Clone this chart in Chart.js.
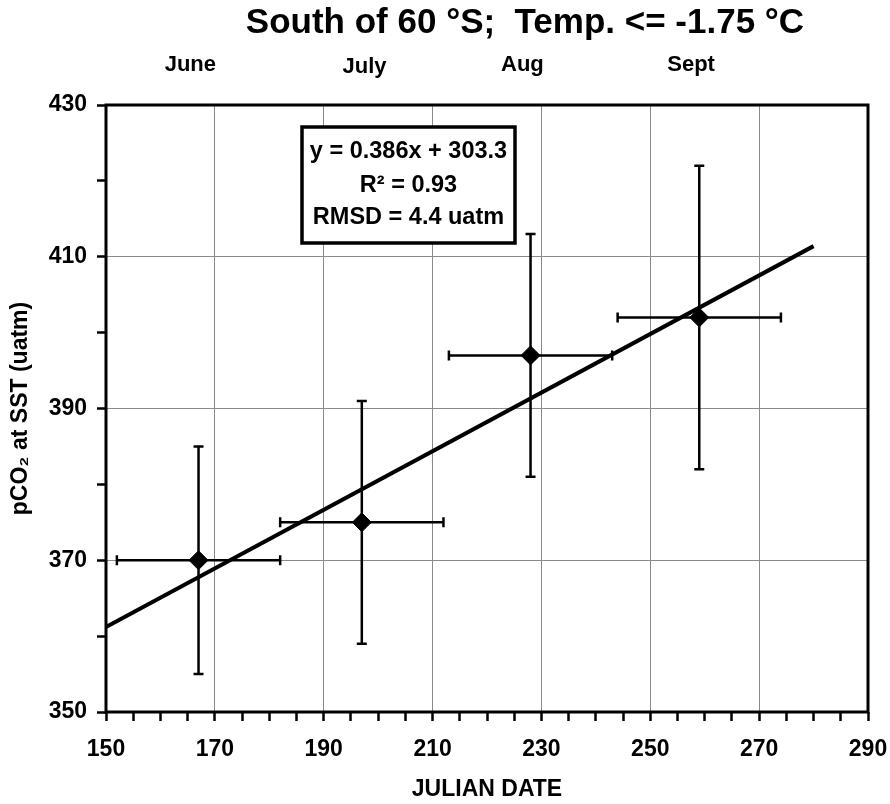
<!DOCTYPE html>
<html><head><meta charset="utf-8">
<script src="https://cdn.jsdelivr.net/npm/chart.js@4.4.0/dist/chart.umd.min.js"></script>
<style>html,body{margin:0;padding:0;background:#fff;}</style>
</head><body>
<canvas id="c" width="890" height="804" style="width:890px;height:804px;display:block"></canvas>
<script>
// ---- data ----
const julianDate = [167, 197, 228, 259];
const pco2 = [370, 375, 397, 402];
const dateErr = [15, 15, 15, 15];
const pco2Err = [15, 16, 16, 20];
const fitX = [150, 280];
const fitY = [361.2, 411.4];
const monthNames = ['June', 'July', 'Aug', 'Sept'];
const monthDates = [165.5, 197.5, 226.5, 257.5];
const xTicksMajor = [150, 170, 190, 210, 230, 250, 270, 290];
const yTicksMajor = [350, 370, 390, 410, 430];
const titleText = 'South of 60 °S;  Temp. <= -1.75 °C';
const fitText = ['y = 0.386x + 303.3', 'R² = 0.93', 'RMSD = 4.4 uatm'];
const xTitle = 'JULIAN DATE';
const yTitle = 'pCO₂ at SST (uatm)';

const FONT = "'Liberation Sans', Arial, sans-serif";
const GRID = '#8a8a8a';

const errorBars = {
  id: 'errorBars',
  beforeDatasetsDraw(chart) {
    const {ctx, scales: {x, y}} = chart;
    ctx.save();
    ctx.strokeStyle = '#000';
    ctx.lineWidth = 2.5;
    const cap = 5;
    for (let i = 0; i < julianDate.length; i++) {
      const px = x.getPixelForValue(julianDate[i]);
      const py = y.getPixelForValue(pco2[i]);
      const y1 = y.getPixelForValue(pco2[i] + pco2Err[i]);
      const y2 = y.getPixelForValue(pco2[i] - pco2Err[i]);
      const x1 = x.getPixelForValue(julianDate[i] - dateErr[i]);
      const x2 = x.getPixelForValue(julianDate[i] + dateErr[i]);
      ctx.beginPath();
      ctx.moveTo(px, y1); ctx.lineTo(px, y2);
      ctx.moveTo(px - cap, y1); ctx.lineTo(px + cap, y1);
      ctx.moveTo(px - cap, y2); ctx.lineTo(px + cap, y2);
      ctx.moveTo(x1, py); ctx.lineTo(x2, py);
      ctx.moveTo(x1, py - cap); ctx.lineTo(x1, py + cap);
      ctx.moveTo(x2, py - cap); ctx.lineTo(x2, py + cap);
      ctx.stroke();
    }
    ctx.restore();
  }
};

const decorations = {
  id: 'decorations',
  afterDraw(chart) {
    const {ctx, chartArea: a, scales: {x}} = chart;
    ctx.save();
    // frame
    ctx.strokeStyle = '#000';
    ctx.lineWidth = 3;
    ctx.strokeRect(a.left, a.top, a.right - a.left, a.bottom - a.top);
    // title
    ctx.fillStyle = '#000';
    ctx.textAlign = 'center';
    ctx.textBaseline = 'alphabetic';
    ctx.font = 'bold 35px ' + FONT;
    ctx.fillText(titleText, 525, 33);
    // month labels
    ctx.font = 'bold 22px ' + FONT;
    const dy = [0, 2.5, 0, 0];
    for (let i = 0; i < monthNames.length; i++) {
      ctx.fillText(monthNames[i], x.getPixelForValue(monthDates[i]), 70.5 + dy[i]);
    }
    // fit box
    const bx = 302, by = 127, bw = 213, bh = 116;
    ctx.fillStyle = '#fff';
    ctx.fillRect(bx, by, bw, bh);
    ctx.lineWidth = 3.5;
    ctx.strokeRect(bx, by, bw, bh);
    ctx.fillStyle = '#000';
    ctx.font = 'bold 23.5px ' + FONT;
    ctx.textBaseline = 'middle';
    const cx = bx + bw / 2;
    const ly = [152, 186, 218];
    for (let i = 0; i < fitText.length; i++) ctx.fillText(fitText[i], cx, ly[i]);
    ctx.restore();
  }
};

new Chart(document.getElementById('c'), {
  type: 'scatter',
  data: {
    datasets: [
      {
        type: 'line',
        data: fitX.map((v, i) => ({x: v, y: fitY[i]})),
        borderColor: '#000',
        borderWidth: 4,
        pointRadius: 0,
        fill: false,
        order: 2
      },
      {
        data: julianDate.map((v, i) => ({x: v, y: pco2[i]})),
        pointStyle: 'rectRot',
        pointRadius: 9.5,
        backgroundColor: '#000',
        borderColor: '#000',
        borderWidth: 1,
        order: 1
      }
    ]
  },
  options: {
    responsive: false,
    animation: false,
    devicePixelRatio: 1,
    layout: {padding: {left: 0, right: 22, top: 105, bottom: 0}},
    plugins: {legend: {display: false}, tooltip: {enabled: false}, title: {display: false}},
    scales: {
      x: {
        type: 'linear', min: 150, max: 290,
        afterFit: s => { s.height = 92; s.paddingRight = 0; s.paddingLeft = 0; },
        border: {display: false},
        grid: {
          color: c => (c.tick && xTicksMajor.includes(c.tick.value) && c.tick.value !== 150 && c.tick.value !== 290) ? GRID : 'rgba(0,0,0,0)',
          lineWidth: 1,
          tickColor: '#000', tickLength: 9, tickWidth: 2.5, drawTicks: true
        },
        ticks: {
          stepSize: 5, autoSkip: false, maxRotation: 0, minRotation: 0,
          padding: 15, color: '#000',
          font: {family: FONT, size: 23, weight: 'bold'},
          callback: v => xTicksMajor.includes(v) ? String(v) : ''
        },
        title: {display: true, text: xTitle, color: '#000', padding: {top: 0, bottom: 1},
          font: {family: FONT, size: 23, weight: 'bold'}}
      },
      y: {
        type: 'linear', min: 350, max: 430,
        afterFit: s => { s.width = 106; s.paddingTop = 0; s.paddingBottom = 0; },
        border: {display: false},
        grid: {
          color: c => (c.tick && yTicksMajor.includes(c.tick.value) && c.tick.value !== 350 && c.tick.value !== 430) ? GRID : 'rgba(0,0,0,0)',
          lineWidth: 1,
          tickColor: '#000', tickLength: 9, tickWidth: 2.5, drawTicks: true
        },
        ticks: {
          stepSize: 10, autoSkip: false,
          padding: 10, color: '#000',
          font: {family: FONT, size: 23, weight: 'bold'},
          callback: v => yTicksMajor.includes(v) ? String(v) : ''
        },
        title: {display: true, text: yTitle, color: '#000', padding: {top: 7, bottom: 0},
          font: {family: FONT, size: 23, weight: 'bold'}}
      }
    }
  },
  plugins: [errorBars, decorations]
});
</script>
</body></html>
